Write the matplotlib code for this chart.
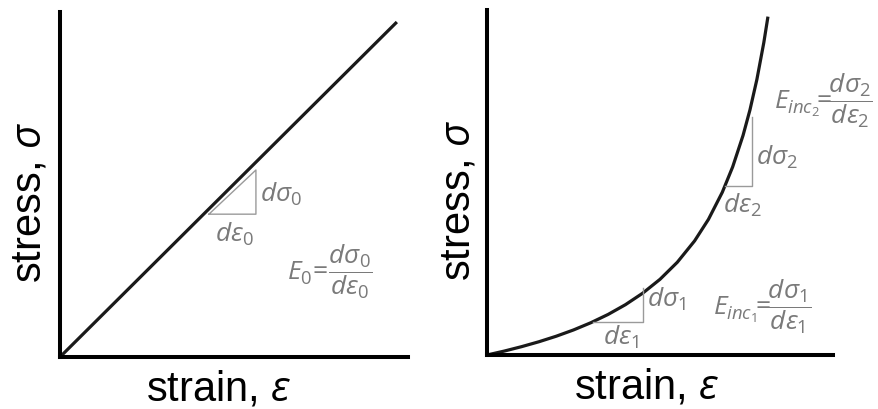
import matplotlib
matplotlib.use("Agg")
import matplotlib.pyplot as plt

plt.rcParams['font.family'] = ['Liberation Sans', 'DejaVu Sans']
plt.rcParams['mathtext.fontset'] = 'custom'
plt.rcParams['mathtext.rm'] = 'Open Sans'
plt.rcParams['mathtext.it'] = 'Open Sans:italic'

# linear elastic response
lin_strain = [0.0, 0.968]
lin_stress = [0.0, 0.971]
lin_tri_x = [0.428, 0.563, 0.563, 0.428]
lin_tri_y = [0.414, 0.414, 0.542, 0.414]

# strain-stiffening response
nl_strain = [0.0, 0.05, 0.10, 0.15, 0.20, 0.25, 0.30, 0.35, 0.40, 0.45,
             0.50, 0.55, 0.60, 0.64, 0.68, 0.71, 0.74, 0.76, 0.78, 0.80, 0.812]
nl_stress = [0.0, 0.0114, 0.0242, 0.0384, 0.0544, 0.0726, 0.0935, 0.1176,
             0.1458, 0.1792, 0.2194, 0.2688, 0.3308, 0.3931, 0.4716, 0.5452,
             0.6364, 0.7104, 0.7986, 0.9053, 0.9808]
tri1_x = [0.306, 0.451, 0.451]
tri1_y = [0.0957, 0.0957, 0.194]
tri2_x = [0.688, 0.766, 0.766]
tri2_y = [0.490, 0.490, 0.690]

AX_LABEL_SIZE = 30
NOTE_SIZE = 19
NOTE_COLOR = '#7a7a7a'
TRI_COLOR = '#9a9a9a'

fig = plt.figure(figsize=(8.79, 4.09), dpi=100)
ax1 = fig.add_axes([60 / 879, 52 / 409, 348 / 879, 345 / 409])
ax2 = fig.add_axes([487 / 879, 54 / 409, 346 / 879, 345 / 409])

for ax in (ax1, ax2):
    ax.set_xlim(0, 1)
    ax.set_ylim(0, 1)
    ax.set_xticks([])
    ax.set_yticks([])
    for side in ('top', 'right'):
        ax.spines[side].set_visible(False)
    for side in ('left', 'bottom'):
        ax.spines[side].set_linewidth(2.9)
        ax.spines[side].set_color('black')
    ax.patch.set_alpha(0)

# left: constant modulus
ax1.plot(lin_strain, lin_stress, color='#1a1a1a', lw=2.3, clip_on=False,
         solid_capstyle='butt')
ax1.plot(lin_tri_x, lin_tri_y, color=TRI_COLOR, lw=1.0)
ax1.text(0.575, 0.449, r'$d\sigma_0$', fontsize=NOTE_SIZE, color=NOTE_COLOR,
         ha='left', va='baseline')
ax1.text(0.445, 0.333, r'$d\varepsilon_0$', fontsize=NOTE_SIZE, color=NOTE_COLOR,
         ha='left', va='baseline')
ax1.text(0.652, 0.246, r'$E_0\!=\!\dfrac{d\sigma_0}{d\varepsilon_0}$',
         fontsize=NOTE_SIZE, color=NOTE_COLOR, ha='left', va='center')

# right: incremental modulus
ax2.plot(nl_strain, nl_stress, color='#1a1a1a', lw=2.3, clip_on=False,
         solid_capstyle='butt')
ax2.plot(tri1_x, tri1_y, color=TRI_COLOR, lw=1.0)
ax2.plot(tri2_x, tri2_y, color=TRI_COLOR, lw=1.0)
ax2.text(0.777, 0.551, r'$d\sigma_2$', fontsize=NOTE_SIZE, color=NOTE_COLOR,
         ha='left', va='baseline')
ax2.text(0.682, 0.412, r'$d\varepsilon_2$', fontsize=NOTE_SIZE, color=NOTE_COLOR,
         ha='left', va='baseline')
ax2.text(0.829, 0.736, r'$E_{inc_2}\!\!=\!\!\dfrac{d\sigma_2}{d\varepsilon_2}$',
         fontsize=NOTE_SIZE, color=NOTE_COLOR, ha='left', va='center')
ax2.text(0.462, 0.139, r'$d\sigma_1$', fontsize=NOTE_SIZE, color=NOTE_COLOR,
         ha='left', va='baseline')
ax2.text(0.335, 0.029, r'$d\varepsilon_1$', fontsize=NOTE_SIZE, color=NOTE_COLOR,
         ha='left', va='baseline')
ax2.text(0.653, 0.139, r'$E_{inc_1}\!\!=\!\!\dfrac{d\sigma_1}{d\varepsilon_1}$',
         fontsize=NOTE_SIZE, color=NOTE_COLOR, ha='left', va='center')

# axis titles
for ax, xc, yx in ((ax1, 0.457, -0.030), (ax2, 0.462, -0.026)):
    ax.text(xc, -0.125, 'strain, ' + r'$\varepsilon$', fontsize=AX_LABEL_SIZE,
            ha='center', va='baseline', transform=ax.transAxes)
    ax.text(yx, 0.449, 'stress, ' + r'$\sigma$', fontsize=AX_LABEL_SIZE,
            rotation=90, ha='right', va='center', transform=ax.transAxes)

fig.savefig('out.png', dpi=100)
